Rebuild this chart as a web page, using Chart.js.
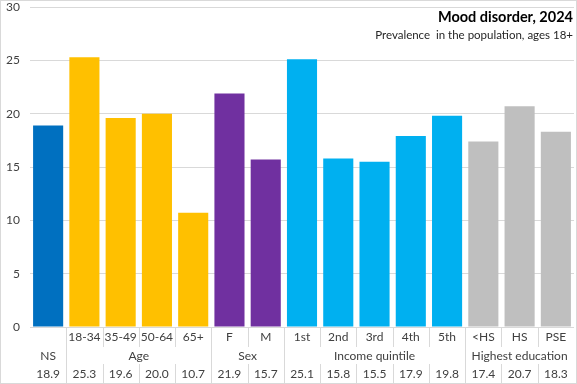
<!DOCTYPE html>
<html>
<head>
<meta charset="utf-8">
<script src="https://cdn.jsdelivr.net/npm/chart.js@4"></script>
<style>
  body { margin: 0; background: #fff; }
  canvas { display: block; }
</style>
</head>
<body>
<canvas id="moodChart" width="577" height="384"></canvas>
<script>
const categories = ["", "18-34", "35-49", "50-64", "65+", "F", "M", "1st", "2nd", "3rd", "4th", "5th", "<HS", "HS", "PSE"];
const values = [18.9, 25.3, 19.6, 20.0, 10.7, 21.9, 15.7, 25.1, 15.8, 15.5, 17.9, 19.8, 17.4, 20.7, 18.3];
const groupNames = ["NS", "Age", "Sex", "Income quintile", "Highest education"];
const groupSizes = [1, 4, 2, 5, 3];
const groupColors = ["#0070C0", "#FFC000", "#7030A0", "#00B0F0", "#BFBFBF"];
const yTicks = [0, 5, 10, 15, 20, 25, 30];

const FONT = "Lato, sans-serif";
const TEXT = "#404040";
const LINE = "#D9D9D9";

// colour and group start per bar
const barColors = [];
const groupStart = [];
groupSizes.forEach((n, g) => {
  for (let k = 0; k < n; k++) {
    barColors.push(groupColors[g]);
    groupStart.push(k === 0);
  }
});

const tablePlugin = {
  id: "table",
  afterDraw(chart) {
    const ctx = chart.ctx;
    const xs = chart.scales.x;
    const bottom = chart.chartArea.bottom;
    const H = chart.height;
    const step = xs.getPixelForValue(1) - xs.getPixelForValue(0);
    ctx.save();
    ctx.fillStyle = TEXT;
    ctx.textAlign = "center";
    ctx.textBaseline = "middle";
    ctx.font = "12px " + FONT;

    // separators
    ctx.strokeStyle = LINE;
    ctx.lineWidth = 1;
    for (let i = 1; i < categories.length; i++) {
      const x = Math.round(xs.getPixelForValue(i) - step / 2) + 0.5;
      ctx.beginPath();
      if (groupStart[i]) {
        ctx.moveTo(x, bottom); ctx.lineTo(x, H);
      } else {
        ctx.moveTo(x, bottom); ctx.lineTo(x, bottom + 20);
        ctx.moveTo(x, bottom + 37); ctx.lineTo(x, H);
      }
      ctx.stroke();
    }

    // sub labels + values
    categories.forEach((c, i) => {
      const x = xs.getPixelForValue(i);
      ctx.fillText(c, x, bottom + 10);
      ctx.fillText(values[i].toFixed(1), x, bottom + 47);
    });

    // group labels
    let idx = 0;
    groupSizes.forEach((n, g) => {
      const x0 = xs.getPixelForValue(idx);
      const x1 = xs.getPixelForValue(idx + n - 1);
      ctx.fillText(groupNames[g], (x0 + x1) / 2, bottom + 29);
      idx += n;
    });

    // title
    ctx.textAlign = "right";
    ctx.font = "bold 14.5px " + FONT;
    ctx.fillStyle = "#000";
    ctx.fillText("Mood disorder, 2024", 573, 17);
    ctx.font = "11.5px " + FONT;
    ctx.fillStyle = "#262626";
    ctx.fillText("Prevalence  in the population, ages 18+", 573, 35);

    // outer border
    ctx.strokeStyle = LINE;
    ctx.strokeRect(0.5, 0.5, chart.width - 1, H - 1);
    ctx.restore();
  }
};

const ctx = document.getElementById("moodChart").getContext("2d");
new Chart(ctx, {
  type: "bar",
  data: {
    labels: categories,
    datasets: [{
      data: values,
      backgroundColor: barColors,
      barPercentage: 0.83,
      categoryPercentage: 1
    }]
  },
  options: {
    responsive: false,
    animation: false,
    layout: { padding: { left: 0, right: 3, top: 0, bottom: 57 } },
    scales: {
      x: { display: false },
      y: {
        min: 0,
        max: 30,
        afterBuildTicks: s => { s.ticks = yTicks.map(v => ({ value: v })); },
        afterFit: s => { s.width = 30; s.paddingTop = 7; },
        ticks: { padding: 10, color: TEXT, font: { family: FONT, size: 12 } },
        grid: { color: LINE, drawTicks: false },
        border: { display: false }
      }
    },
    plugins: {
      legend: { display: false },
      tooltip: { enabled: false }
    }
  },
  plugins: [tablePlugin]
});
</script>
</body>
</html>
